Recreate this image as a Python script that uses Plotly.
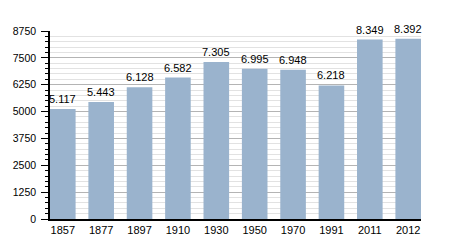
import plotly.graph_objects as go

years = ["1857", "1877", "1897", "1910", "1930", "1950", "1970", "1991", "2011", "2012"]
population = [5117, 5443, 6128, 6582, 7305, 6995, 6948, 6218, 8349, 8392]
y_ticks = [0, 1250, 2500, 3750, 5000, 6250, 7500, 8750]

bar_color = "#9ab3cd"
bargap = 0.333
half = (1 - bargap) / 2
font_family = "Liberation Sans, Arial, sans-serif"

xs = list(range(len(years)))

fig = go.Figure(
    go.Bar(
        x=xs,
        y=population,
        marker=dict(color=bar_color, line=dict(width=0)),
        hoverinfo="skip",
    )
)

for xi, v in zip(xs, population):
    fig.add_annotation(
        x=xi,
        y=v,
        text=f"{v:,}".replace(",", "."),
        showarrow=False,
        yanchor="bottom",
        xanchor="center",
        yshift=2,
        font=dict(family=font_family, size=11, color="black"),
    )

fig.update_layout(
    width=450,
    height=250,
    margin=dict(l=50, r=29, t=31, b=31),
    paper_bgcolor="white",
    plot_bgcolor="white",
    bargap=bargap,
    showlegend=False,
    font=dict(family=font_family, size=11, color="black"),
)

fig.update_xaxes(
    range=[-half, len(years) - 1 + half],
    tickmode="array",
    tickvals=xs,
    ticktext=years,
    tickfont=dict(size=11),
    showgrid=False,
    showline=True,
    linecolor="black",
    linewidth=1.5,
    ticks="",
    zeroline=False,
)

fig.update_yaxes(
    range=[0, 8750],
    tickmode="array",
    tickvals=y_ticks,
    ticktext=[str(v) for v in y_ticks],
    tickfont=dict(size=10.5),
    ticklabelstandoff=3,
    showgrid=True,
    gridcolor="#b4b4b4",
    gridwidth=1,
    showline=True,
    linecolor="black",
    linewidth=1.5,
    ticks="outside",
    ticklen=7,
    tickcolor="black",
    zeroline=False,
    minor=dict(
        dtick=250,
        tick0=0,
        showgrid=True,
        gridcolor="#e2e2e2",
        gridwidth=1,
        ticks="outside",
        ticklen=3,
        tickcolor="black",
    ),
)

fig.write_html("out.html")
